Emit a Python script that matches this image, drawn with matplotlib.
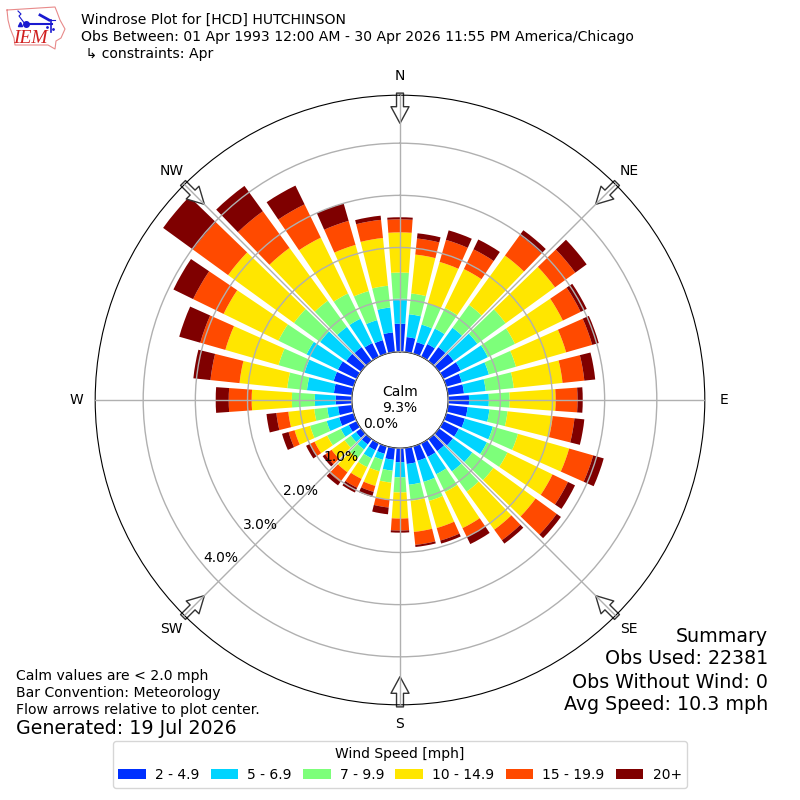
import numpy as np
import matplotlib
matplotlib.use("Agg")
import matplotlib.pyplot as plt

directions = np.arange(0, 360, 10)
compass = ["N", "NE", "E", "SE", "S", "SW", "W", "NW"]
rticks = [0, 1, 2, 3, 4]
bins = ["2 - 4.9", "5 - 6.9", "7 - 9.9", "10 - 14.9", "15 - 19.9", "20+"]
colors = ["#0030ff", "#00d4ff", "#7dff7a", "#ffe600", "#ff4a00", "#7f0000"]

# percent of obs per direction (0, 10, ... 350 deg)
s_2_5 = [.54, .29, .23, .27, .33, .35, .37, .31, .31, .40, .38, .37, .33, .33, .29, .29, .29, .31,
         .27, .23, .15, .15, .13, .12, .17, .29, .27, .31, .35, .40, .40, .35, .33, .29, .27, .38]
s_5_7 = [.48, .44, .35, .33, .46, .56, .58, .54, .42, .38, .42, .56, .60, .46, .48, .37, .42, .40,
         .29, .21, .12, .17, .12, .12, .17, .25, .21, .40, .52, .58, .67, .62, .48, .52, .40, .48]
s_7_10 = [.50, .40, .42, .44, .54, .67, .58, .54, .54, .40, .35, .50, .44, .50, .48, .38, .38, .31,
          .29, .23, .23, .19, .21, .15, .29, .33, .25, .44, .38, .52, .60, .62, .62, .54, .58, .42]
s_10_15 = [.77, .75, .83, .83, 1.17, 1.17, 1.02, 1.00, .94, .88, .87, 1.02, .96, 1.00, .90, .77, .54, .60,
           .50, .33, .29, .25, .33, .31, .27, .31, .50, .77, .92, 1.06, 1.17, 1.56, 1.25, 1.19, .92, .92]
s_15_20 = [.25, .31, .44, .42, .48, .48, .38, .52, .42, .42, .42, .48, .33, .50, .25, .19, .25, .25,
           .23, .15, .12, .19, .23, .15, .10, .12, .23, .44, .56, .50, .65, .83, .87, .71, .48, .35]
s_20 = [.04, .10, .19, .21, .12, .27, .13, .13, .21, .10, .19, .21, .15, .10, .08, .15, .06, .04,
        .04, .13, .10, .10, .08, .06, .08, .13, .19, .25, .33, .42, .42, .71, .60, .40, .35, .08]
series = [s_2_5, s_5_7, s_7_10, s_10_15, s_15_20, s_20]

fig = plt.figure(figsize=(8, 8), dpi=100)
ax = fig.add_axes([0.119, 0.119, 0.762, 0.762], projection="polar")
ax.set_theta_zero_location("N")
ax.set_theta_direction(-1)

theta = np.deg2rad(directions)
bottom = np.zeros(len(directions))
handles = []
for vals, color, label in zip(series, colors, bins):
    bars = ax.bar(theta, vals, width=np.deg2rad(8), bottom=bottom, color=color, label=label)
    bottom = bottom + np.array(vals)
    handles.append(bars)

ax.set_rorigin(-48 / 52)
ax.set_rlim(0, 4.92)
ax.set_axisbelow(False)
ax.grid(True, color="#b0b0b0", lw=1)
ax.set_xticks(np.deg2rad(np.arange(0, 360, 45)))
ax.set_xticklabels(compass, fontsize=10)
ax.tick_params(axis="x", pad=3)
ax.set_yticks(rticks)
ax.set_yticklabels(["%.1f%%" % t for t in rticks], fontsize=10)
ax.set_rlabel_position(230)

# flow arrows, pointing in to the center
for t in np.deg2rad(np.arange(0, 360, 45)):
    ax.annotate("", xy=(t, 4.38), xytext=(t, 4.96), zorder=2.2,
                arrowprops=dict(facecolor="white", edgecolor="#333333", width=5, headwidth=13,
                                headlength=12, shrink=0, lw=1))

ax.text(0.5, 0.5, "Calm\n9.3%", transform=ax.transAxes, ha="center", va="center", fontsize=10)

# titles
fig.text(81 / 800, 1 - 20 / 800, "Windrose Plot for [HCD] HUTCHINSON", fontsize=10.12, va="center")
fig.text(81 / 800, 1 - 37 / 800, "Obs Between: 01 Apr 1993 12:00 AM - 30 Apr 2026 11:55 PM America/Chicago",
         fontsize=10.12, va="center")
fig.text(81 / 800, 1 - 54 / 800, " \u21b3 constraints: Apr", fontsize=10.12, va="center")

# notes
fig.text(16 / 800, 1 - 676 / 800, "Calm values are < 2.0 mph", fontsize=10.1, va="center")
fig.text(16 / 800, 1 - 693 / 800, "Bar Convention: Meteorology", fontsize=10.1, va="center")
fig.text(16 / 800, 1 - 710 / 800, "Flow arrows relative to plot center.", fontsize=10.1, va="center")
fig.text(16 / 800, 1 - 729 / 800, "Generated: 19 Jul 2026", fontsize=13.7, va="center")

fig.text(768 / 800, 1 - 636 / 800, "Summary", fontsize=13.7, ha="right", va="center")
fig.text(768 / 800, 1 - 659 / 800, "Obs Used: 22381", fontsize=13.7, ha="right", va="center")
fig.text(768 / 800, 1 - 682 / 800, "Obs Without Wind: 0", fontsize=13.7, ha="right", va="center")
fig.text(768 / 800, 1 - 705 / 800, "Avg Speed: 10.3 mph", fontsize=13.7, ha="right", va="center")

fig.legend(handles=handles, title="Wind Speed [mph]", ncol=6, loc="center", fontsize=10,
           bbox_to_anchor=(0.5, 1 - 764.5 / 800), title_fontsize=10,
           columnspacing=0.8, handletextpad=0.65, borderpad=0.4)

# logo, pixel coords
logo = fig.add_axes([0, 0, 1, 1], facecolor="none")
logo.set_xlim(0, 800)
logo.set_ylim(800, 0)
logo.axis("off")
logo.plot([7, 55, 57, 60, 65, 61, 56, 55, 48, 15, 14, 10, 8, 7],
          [10, 7, 12, 20, 29, 38, 41, 49, 45, 45, 38, 28, 20, 10], color="#e88a8a", lw=0.8)
logo.plot([26, 52], [24, 24], color="#1a1ad0", lw=1.5)
logo.plot([26], [24], "o", color="#1a1ad0", ms=4)
logo.plot([18, 21, 19, 25], [11, 14, 16, 24], color="#1a1ad0", lw=0.8)
logo.plot([20], [24], "^", color="#1a1ad0", ms=3)
logo.plot([40, 49], [15, 20], color="#1a1ad0", lw=2)
logo.plot([49, 55], [20, 20], color="#1a1ad0", lw=0.8)
logo.plot([51, 51], [20, 32], color="#1a1ad0", lw=1.2)
logo.plot([47, 53], [27, 29], ".", color="#1a1ad0", ms=2)
logo.text(30.5, 38.5, "IEM", color="#d02020", fontsize=14, style="italic", family="Liberation Serif",
          ha="center", va="center")

fig.savefig("out.png", dpi=100)
